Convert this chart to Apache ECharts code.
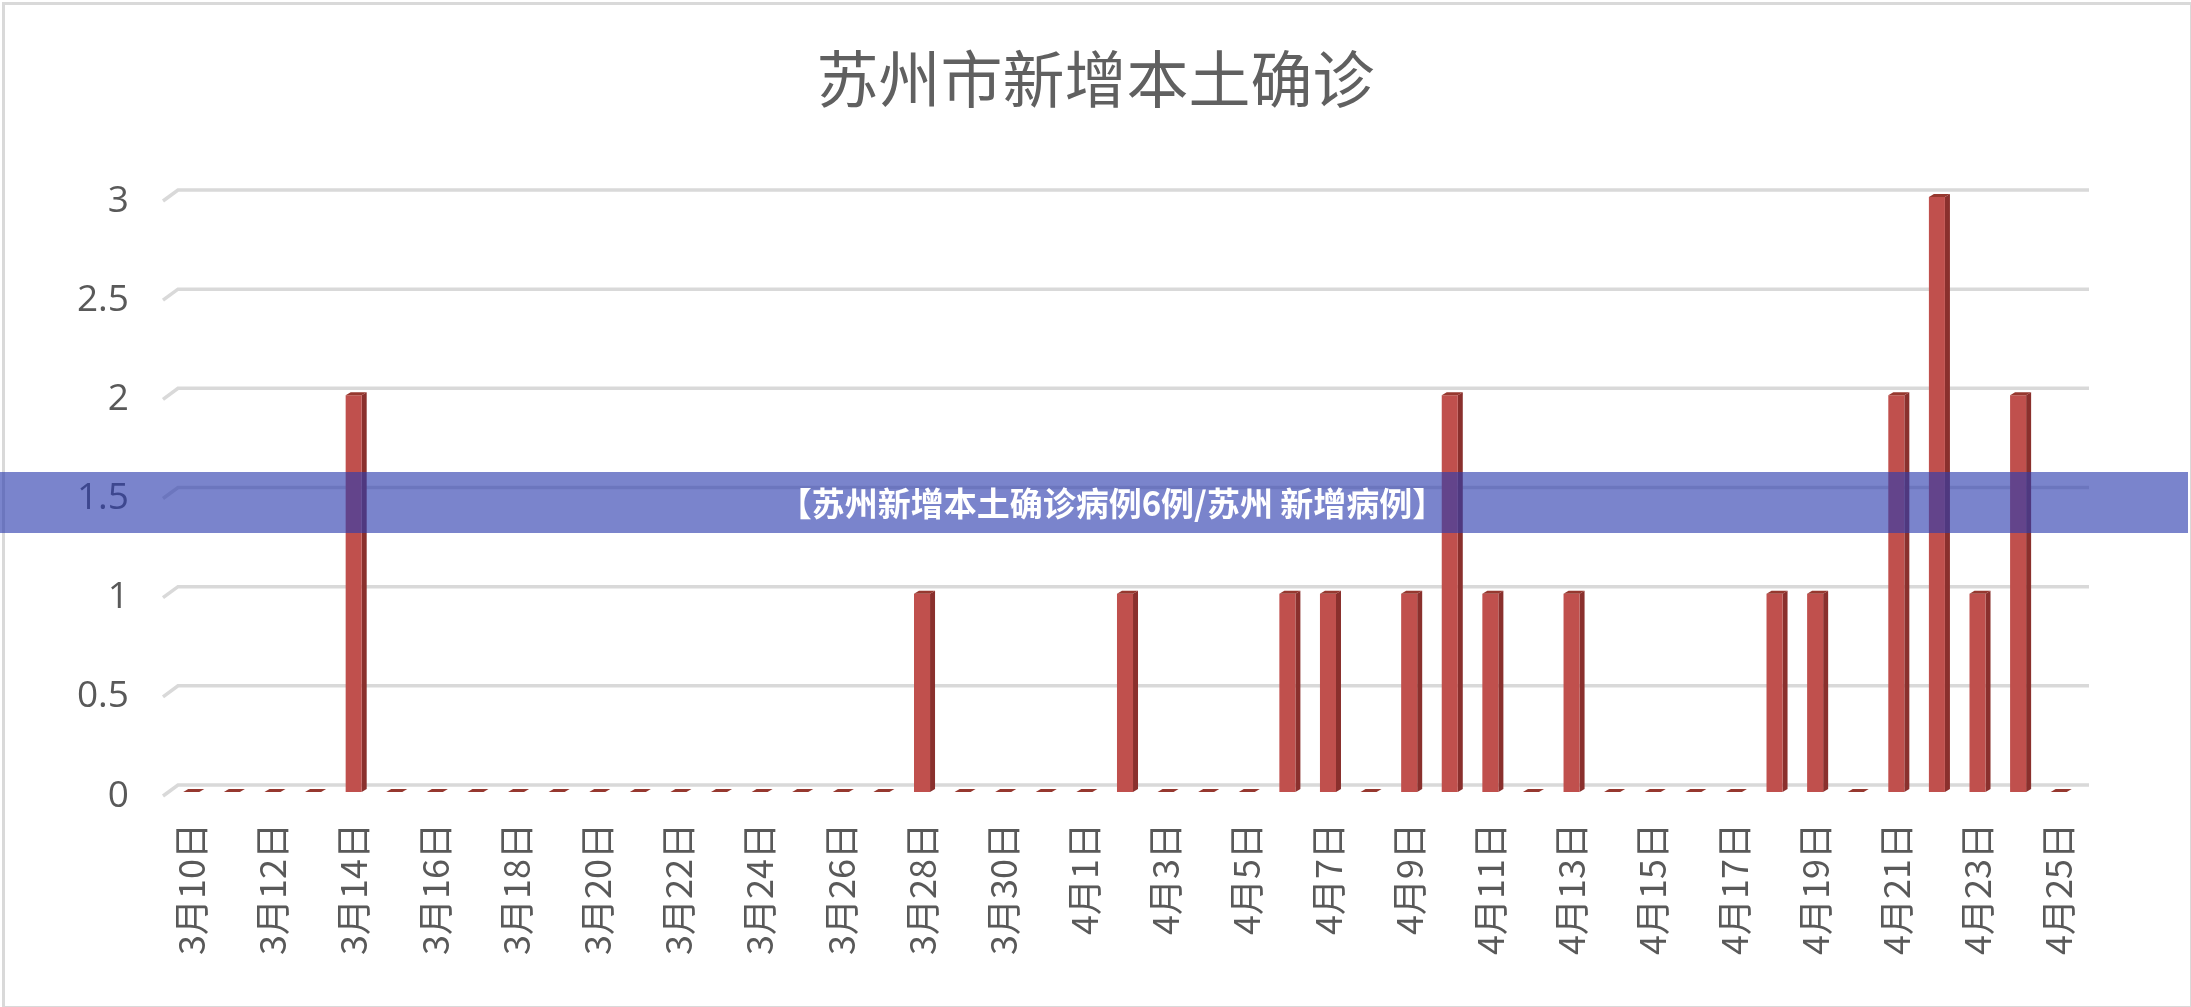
<!DOCTYPE html>
<html>
<head>
<meta charset="utf-8">
<script src="https://cdn.jsdelivr.net/npm/echarts@6/dist/echarts.min.js"></script>
<style>
html,body{margin:0;padding:0;background:#fff;}
#main{width:2191px;height:1007px;}
</style>
</head>
<body>
<div id="main"></div>
<script>
var titleText = '苏州市新增本土确诊';
var bannerText = '【苏州新增本土确诊病例6例/苏州 新增病例】';
var categories = [
  '3月10日','3月11日','3月12日','3月13日','3月14日','3月15日','3月16日','3月17日',
  '3月18日','3月19日','3月20日','3月21日','3月22日','3月23日','3月24日','3月25日',
  '3月26日','3月27日','3月28日','3月29日','3月30日','3月31日',
  '4月1日','4月2日','4月3日','4月4日','4月5日','4月6日','4月7日','4月8日',
  '4月9日','4月10日','4月11日','4月12日','4月13日','4月14日','4月15日','4月16日',
  '4月17日','4月18日','4月19日','4月20日','4月21日','4月22日','4月23日','4月24日','4月25日'
];
var values = [
  0,0,0,0,2,0,0,0,
  0,0,0,0,0,0,0,0,
  0,0,1,0,0,0,
  0,1,0,0,0,1,1,0,
  1,2,1,0,1,0,0,0,
  0,1,1,0,2,3,1,2,0
];
var yTicks = [0,0.5,1,1.5,2,2.5,3];

var chart = echarts.init(document.getElementById('main'));
var textColor = '#595959';
var gridColor = '#d9d9d9';

var barData = values.map(function(v,i){ return [i, v]; });
var tickData = yTicks.map(function(t){ return [0, t]; });

var option = {
  backgroundColor: '#ffffff',
  animation: false,
  title: {
    text: titleText,
    left: 'center',
    top: 43,
    textStyle: {
      fontFamily: '"Noto Sans CJK SC", sans-serif',
      fontSize: 62,
      fontWeight: 'normal',
      color: '#606060'
    }
  },
  grid: [
    {left: 178, right: 102, top: 190, bottom: 222},
    {left: 171, right: 112, top: 190, bottom: 222},
    {left: 171, right: 112, top: 201, bottom: 211}
  ],
  xAxis: [
    {gridIndex: 0, type: 'value', min: 0, max: 1, show: false},
    {
      gridIndex: 1, type: 'category', data: categories,
      axisLine: {show: false}, axisTick: {show: false},
      axisLabel: {
        interval: 1, rotate: 90, margin: 38,
        fontFamily: '"Noto Sans CJK SC", sans-serif',
        fontSize: 36, color: textColor
      }
    },
    {gridIndex: 2, type: 'value', min: 0, max: 1, show: false}
  ],
  yAxis: [
    {gridIndex: 0, type: 'value', min: 0, max: 3, interval: 0.5, show: false},
    {gridIndex: 1, type: 'value', min: 0, max: 3, interval: 0.5, show: false},
    {
      gridIndex: 2, type: 'value', min: 0, max: 3, interval: 0.5,
      axisLine: {show: false}, axisTick: {show: false}, splitLine: {show: false},
      axisLabel: {
        margin: 42,
        fontFamily: '"Open Sans", sans-serif',
        fontSize: 37, color: textColor
      }
    }
  ],
  series: [
    {
      type: 'custom', xAxisIndex: 0, yAxisIndex: 0, data: tickData, silent: true,
      renderItem: function(params, api){
        var p0 = api.coord([0, api.value(1)]);
        var p1 = api.coord([1, api.value(1)]);
        return {
          type: 'polyline',
          shape: {points: [[p0[0]-15, p0[1]+11], [p0[0], p0[1]], [p1[0], p1[1]]]},
          style: {stroke: gridColor, lineWidth: 3.5, fill: null}
        };
      }
    },
    {
      type: 'custom', xAxisIndex: 1, yAxisIndex: 1, data: barData, silent: true,
      renderItem: function(params, api){
        var i = api.value(0), v = api.value(1);
        var top = api.coord([i, v]);
        var base = api.coord([i, 0]);
        var cw = api.size([1, 0])[0];
        var w = cw * 0.395;
        var dy = 7, d = 5, dd = 3;
        var xl = top[0] - w/2, xr = top[0] + w/2;
        var yt = top[1] + dy, yb = base[1] + dy;
        return {
          type: 'group',
          children: [
            {type: 'polygon', shape: {points: [[xr, yt],[xr+d, yt-dd],[xr+d, yb-dd],[xr, yb]]},
             style: {fill: '#8a302d'}},
            {type: 'rect', shape: {x: xl, y: yt, width: w, height: yb - yt},
             style: {fill: '#c0504d'}},
            {type: 'polygon', shape: {points: [[xl, yt],[xl+d, yt-dd],[xr+d, yt-dd],[xr, yt]]},
             style: {fill: '#96382f'}}
          ]
        };
      }
    }
  ],
  graphic: [
    {type: 'rect', left: 1, top: 1, z: 100, silent: true,
     shape: {width: 2188, height: 1004},
     style: {fill: null, stroke: gridColor, lineWidth: 3}},
    {type: 'rect', left: 0, top: 472, z: 101, silent: true,
     shape: {width: 2188, height: 61},
     style: {fill: 'rgba(46,61,175,0.635)'}},
    {type: 'text', z: 102, silent: true, x: 1112, y: 503,
     style: {text: bannerText, fill: '#ffffff', fontSize: 33, fontWeight: 'bold',
             fontFamily: '"Noto Sans CJK SC", sans-serif', align: 'center', verticalAlign: 'middle'}}
  ]
};
chart.setOption(option);
</script>
</body>
</html>
